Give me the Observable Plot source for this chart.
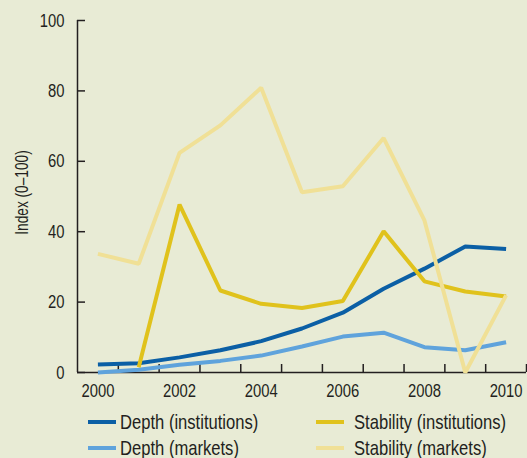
<!DOCTYPE html>
<html>
<head>
<meta charset="utf-8">
<script src="https://cdn.jsdelivr.net/npm/d3@7"></script>
<script src="https://cdn.jsdelivr.net/npm/@observablehq/plot@0.6"></script>
<style>
  body { margin: 0; background: #e8ebd5; font-family: "Liberation Sans", Arial, sans-serif; }
  #wrap { position: relative; width: 527px; height: 458px; overflow: hidden; background: #e8ebd5; }
  #chart { position: absolute; left: 0; top: 0; }
  .legtext { position: absolute; font-size: 21px; line-height: 22px; color: #231f20; white-space: nowrap; transform: scaleX(0.79); transform-origin: 0 50%; }
  .sw { position: absolute; height: 4px; width: 28px; }
</style>
</head>
<body>
<div id="wrap"><div id="chart"></div></div>
<script>
const years = [2000, 2001, 2002, 2003, 2004, 2005, 2006, 2007, 2008, 2009, 2010];
const depthInstitutions   = [2.3, 2.6, 4.3, 6.3, 8.9, 12.5, 17.0, 23.8, 29.5, 35.8, 35.1];
const depthMarkets        = [0.0, 0.8, 2.2, 3.3, 4.8, 7.4, 10.2, 11.3, 7.2, 6.3, 8.6];
const stabilityInstitutions = [null, 1.5, 47.7, 23.3, 19.5, 18.3, 20.3, 40.1, 25.9, 23.0, 21.6];
const stabilityMarkets    = [33.7, 30.9, 62.4, 70.2, 80.9, 51.2, 52.9, 66.6, 43.2, 0.0, 21.9];

const seriesNames = ["Depth (institutions)", "Depth (markets)", "Stability (institutions)", "Stability (markets)"];
const seriesColors = ["#0b5fa5", "#5fa3dc", "#e0c21c", "#f0e096"];
const seriesValues = [depthInstitutions, depthMarkets, stabilityInstitutions, stabilityMarkets];

const yTicks = [0, 20, 40, 60, 80, 100];
const xTickLabels = [2000, 2002, 2004, 2006, 2008, 2010];
const xBoundaries = years.map(y => y + 0.5);
const yTitle = "Index (0–100)";

const data = seriesNames.flatMap((name, s) =>
  years.map((year, i) => ({ year, value: seriesValues[s][i], series: name })));

const W = 527, H = 400, mL = 77, mR = 1, mT = 20, mB = 28;
const fw = W - mL - mR, fh = H - mT - mB, tickLen = 8;
const font = '"Liberation Sans", Arial, sans-serif';
const ink = "#231f20";

const plot = Plot.plot({
  width: W, height: H,
  marginLeft: mL, marginRight: mR, marginTop: mT, marginBottom: mB,
  style: { background: "transparent", fontFamily: font, fontSize: "19px", color: ink, overflow: "visible" },
  x: { domain: [years[0] - 0.5, years[years.length - 1] + 0.5] },
  y: { domain: [0, 100] },
  color: { domain: seriesNames, range: seriesColors },
  marks: [
    Plot.axisY({ ticks: yTicks, tickSize: 0, tickPadding: 13, label: null, fontSize: 19 }),
    Plot.axisX({ ticks: xTickLabels, tickSize: 0, tickPadding: 11, label: null, fontSize: 19, tickFormat: d => String(d) }),
    Plot.tickY(yTicks, { y: d => d, insetRight: fw - tickLen, stroke: ink, strokeWidth: 1.5 }),
    Plot.tickX(xBoundaries, { x: d => d, insetTop: fh - tickLen, stroke: ink, strokeWidth: 1.5 }),
    Plot.ruleX([years[0] - 0.5], { stroke: ink, strokeWidth: 1.5 }),
    Plot.ruleY([0], { stroke: ink, strokeWidth: 1.5 }),
    Plot.line(data, { x: "year", y: "value", z: "series", stroke: "series", strokeWidth: 4, strokeLinejoin: "miter", strokeLinecap: "butt" }),
    Plot.text([yTitle], { frameAnchor: "left", textAnchor: "middle", lineAnchor: "middle", rotate: -90, dx: -56, dy: -4, fontSize: 19, fill: ink, text: d => d })
  ]
});
document.getElementById("chart").appendChild(plot);

// Condense text horizontally (narrow type look) around each text's own anchor
plot.querySelectorAll("text").forEach(t => {
  const s = t.textContent === yTitle ? 0.72 : 0.78;
  const tr = t.getAttribute("transform") || "";
  t.setAttribute("transform", `${tr} scale(${s},1)`);
});

// Legend below the chart
const wrap = document.getElementById("wrap");
const colLeft = [88, 316];
const textGap = [4, 10];
const rowCenter = [422, 448];
const order = [[0, 0], [1, 0], [0, 1], [1, 1]]; // [row, col] per series
seriesNames.forEach((name, i) => {
  const [r, c] = order[i];
  const sw = document.createElement("div");
  sw.className = "sw";
  sw.style.left = colLeft[c] + "px";
  sw.style.top = (rowCenter[r] - 2) + "px";
  sw.style.background = seriesColors[i];
  wrap.appendChild(sw);
  const t = document.createElement("div");
  t.className = "legtext";
  t.textContent = name;
  t.style.left = (colLeft[c] + 28 + textGap[c]) + "px";
  t.style.top = (rowCenter[r] - 11) + "px";
  wrap.appendChild(t);
});
</script>
</body>
</html>
